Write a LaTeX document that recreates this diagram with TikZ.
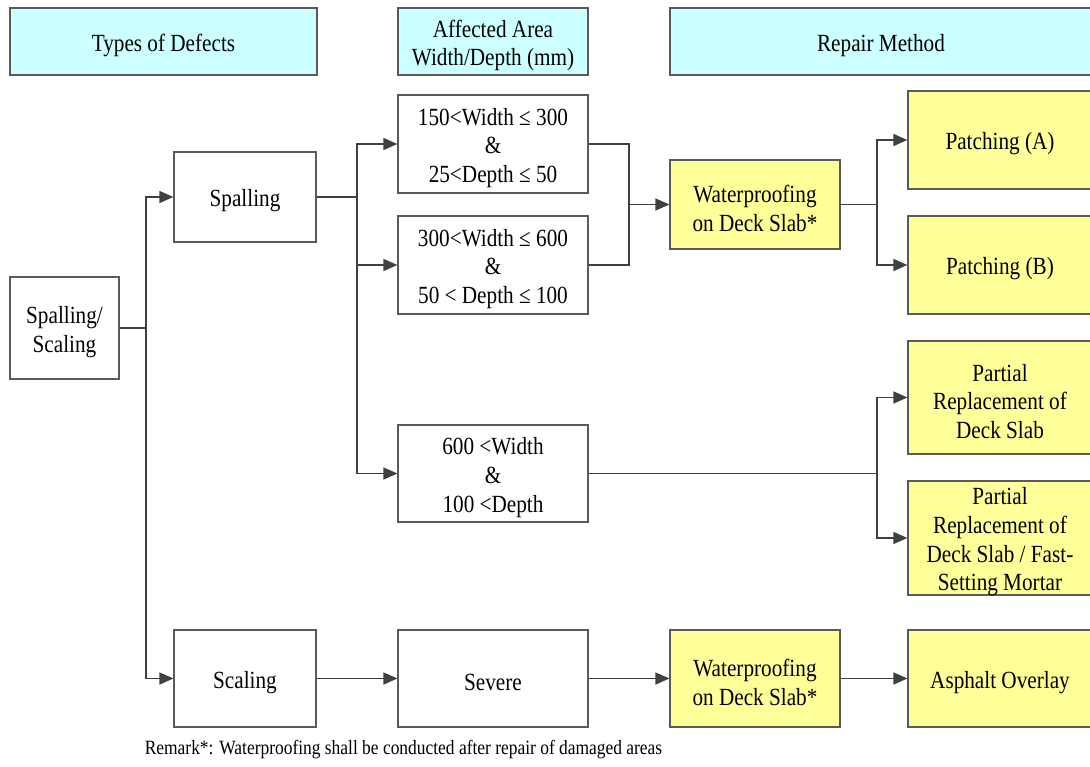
\documentclass[tikz,border=0pt]{standalone}
\usepackage{fontspec}
\setmainfont{Liberation Serif}
\newfontfamily\narrowserif{Liberation Serif}[FakeStretch=0.86]
\usetikzlibrary{arrows.meta}
\definecolor{headcyan}{HTML}{CCFFFF}
\definecolor{actyellow}{HTML}{FFFF99}
\definecolor{boxline}{HTML}{5A5A5A}
\definecolor{linkgray}{HTML}{404040}
\begin{document}
\begin{tikzpicture}[x=0.75pt,y=-0.75pt,
  wh/.style 2 args={minimum width=#1*0.75pt, minimum height=#2*0.75pt},
  txt/.style={align=center, inner sep=0pt, yshift=-3pt,
    font=\narrowserif\fontsize{18.5}{21.5}\selectfont},
  box/.style={draw=boxline, line width=0.9pt, fill=white, inner sep=0pt,
    label={[txt]center:#1}},
  head/.style={box=#1, fill=headcyan},
  act/.style={box=#1, fill=actyellow},
  link/.style={draw=linkgray, line width=1pt},
  arr/.style={link, -{Triangle[length=10.5pt,width=9pt]}}]
\useasboundingbox (0,0) rectangle (1090,767);

% column headings
\node[head={Types of Defects}, wh={307}{67}] (hdA) at (163.5,41.5) {};
\node[head={Affected Area\\Width/Depth (mm)}, wh={190}{67}] (hdB) at (493,41.5) {};
\node[head={Repair Method}, wh={422}{67}] (hdC) at (881,41.5) {};

% defect types
\node[box={Spalling/\\Scaling}, wh={109}{102}] (root) at (64.5,328) {};
\node[box={Spalling}, wh={142}{90}] (spal) at (245,197) {};
\node[box={Scaling}, wh={142}{97}] (scal) at (245,678.5) {};

% affected area
\node[box={150<Width ≤ 300\\\&\\25<Depth ≤ 50}, wh={190}{98}] (c1) at (493,144) {};
\node[box={300<Width ≤ 600\\\&\\50 < Depth ≤ 100}, wh={190}{98}] (c2) at (493,265) {};
\node[box={600 <Width\\\&\\100 <Depth}, wh={190}{97}] (c3) at (493,473.5) {};
\node[box={Severe}, wh={190}{97}] (sev) at (493,678.5) {};

% repair methods
\node[act={Waterproofing\\on Deck Slab*}, wh={170}{89}] (wp1) at (755,204.5) {};
\node[act={Waterproofing\\on Deck Slab*}, wh={170}{97}] (wp2) at (755,678.5) {};
\node[act={Patching (A)}, wh={184}{98}] (pa) at (1000,140) {};
\node[act={Patching (B)}, wh={184}{98}] (pb) at (1000,265) {};
\node[act={Partial\\Replacement of\\Deck Slab}, wh={184}{113}] (pr1) at (1000,397.5) {};
\node[act={Partial\\Replacement of\\Deck Slab / Fast-\\Setting Mortar}, wh={184}{114}] (pr2) at (1000,538) {};
\node[act={Asphalt Overlay}, wh={184}{97}] (asp) at (1000,678.5) {};

% junction points
\coordinate (j1) at (146,328);
\coordinate (j2) at (357,197);
\coordinate (j3) at (629,204.5);
\coordinate (j4) at (877,204.5);
\coordinate (j5) at (877,473.5);

% connectors
\draw[link] (root.east) -- (j1);
\draw[arr] (j1) |- (spal.west);
\draw[arr] (j1) |- (scal.west);

\draw[link] (spal.east) -- (j2);
\draw[arr] (j2) |- (c1.west);
\draw[arr] (j2) |- (c2.west);
\draw[arr] (j2) |- (c3.west);

\draw[link] (c1.east) -| (j3);
\draw[link] (c2.east) -| (j3);
\draw[arr] (j3) -- (wp1.west);

\draw[link] (wp1.east) -- (j4);
\draw[arr] (j4) |- (pa.west);
\draw[arr] (j4) |- (pb.west);

\draw[link] (c3.east) -- (j5);
\draw[arr] (j5) |- (pr1.west);
\draw[arr] (j5) |- (pr2.west);

\draw[arr] (scal.east) -- (sev.west);
\draw[arr] (sev.east) -- (wp2.west);
\draw[arr] (wp2.east) -- (asp.west);

% footnote
\node[font=\narrowserif\fontsize{15.2}{18}\selectfont] (remark) at (403.5,750)
  {Remark*: Waterproofing shall be conducted after repair of damaged areas};
\end{tikzpicture}
\end{document}
